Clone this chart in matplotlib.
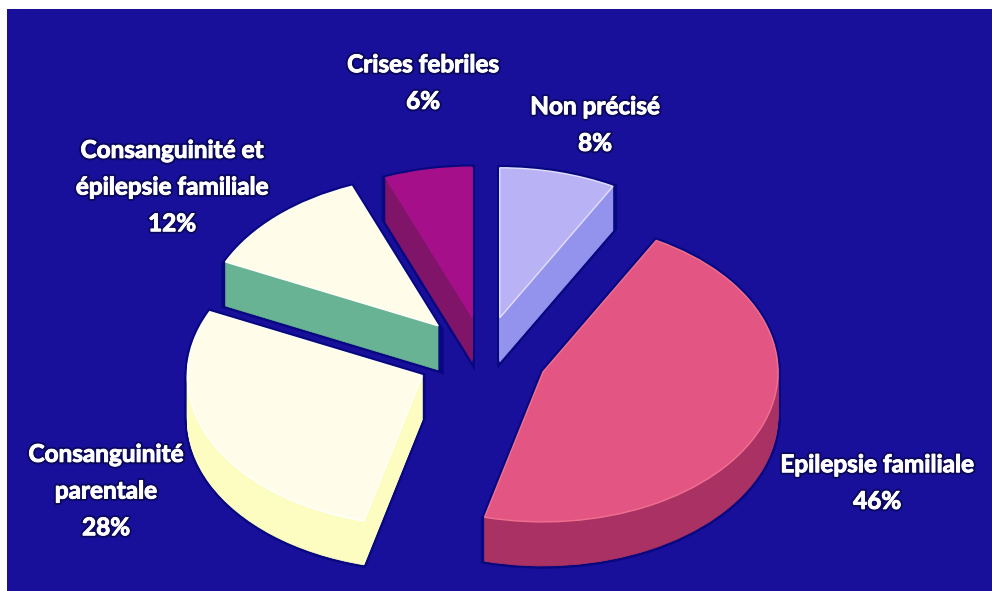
import matplotlib
matplotlib.use("Agg")
import matplotlib.pyplot as plt
import matplotlib.patheffects as pe
from matplotlib.patches import Rectangle

labels = ["Non précisé", "Epilepsie familiale", "Consanguinité\nparentale",
          "Consanguinité et\népilepsie familiale", "Crises febriles"]
values = [8, 46, 28, 12, 6]

top_colors = ["#b9b2f4", "#e35683", "#fffdea", "#fffdea", "#a5108a"]
side_colors = ["#9393ee", "#a93164", "#fdfdc2", "#68b394", "#7f1468"]
edge_colors = ["#e4e0ff", "#f2708f", "#ffffff", "#ffffff", "#a5108a"]
explode = [0.27, 0.27, 0.29, 0.285, 0.27]
label_x = [595, 877, 106, 172, 423]
label_y = [125, 483, 491, 187, 83]

W, H = 992, 591
rx, ry = 235.0, 150.0
cx, cy = 484, 357
depth = 44

fig = plt.figure(figsize=(W / 100, H / 100), dpi=100, facecolor="white")
ax = fig.add_axes([0, 0, 1, 1])


def pie_layer(d, colors, edges=None, lw=0):
    wedges, _ = ax.pie(values, colors=colors, startangle=90, counterclock=False,
                       explode=explode, radius=1,
                       center=(cx / rx, (H - cy - d) / ry))
    for i, w in enumerate(wedges):
        if edges is not None:
            w.set_edgecolor(edges if isinstance(edges, str) else edges[i])
            w.set_linewidth(lw)
        else:
            w.set_linewidth(0)


# dark halo round the slices
for d in range(0, depth + 1, 2):
    pie_layer(d, ["#07077f"] * 5, "#07077f", 4.0)
# extruded walls, bottom to top
for d in range(depth, 0, -1):
    pie_layer(d, side_colors, side_colors, 0.6)
pie_layer(0, top_colors, edge_colors, 1.0)

ax.set_xlim(0, W / rx)
ax.set_ylim(0, H / ry)
ax.set_aspect("auto")
ax.set_zorder(2)
ax.patch.set_alpha(0)

bg = fig.add_axes([0, 0, 1, 1], zorder=1)
bg.set_xlim(0, W)
bg.set_ylim(H, 0)
bg.axis("off")
bg.add_patch(Rectangle((7, 9), W - 7, H - 9, color="#18109a", lw=0))

for name, v, x, y in zip(labels, values, label_x, label_y):
    t = fig.text(x / W, 1 - y / H, f"{name}\n{v}%", ha="center", va="center",
                 color="white", fontsize=17.5, fontweight="bold", family="Lato",
                 linespacing=1.72, zorder=5)
    t.set_path_effects([pe.withStroke(linewidth=3.5, foreground="#0b0860"),
                        pe.withStroke(linewidth=0.7, foreground="white")])

fig.savefig("out.png", dpi=100)
